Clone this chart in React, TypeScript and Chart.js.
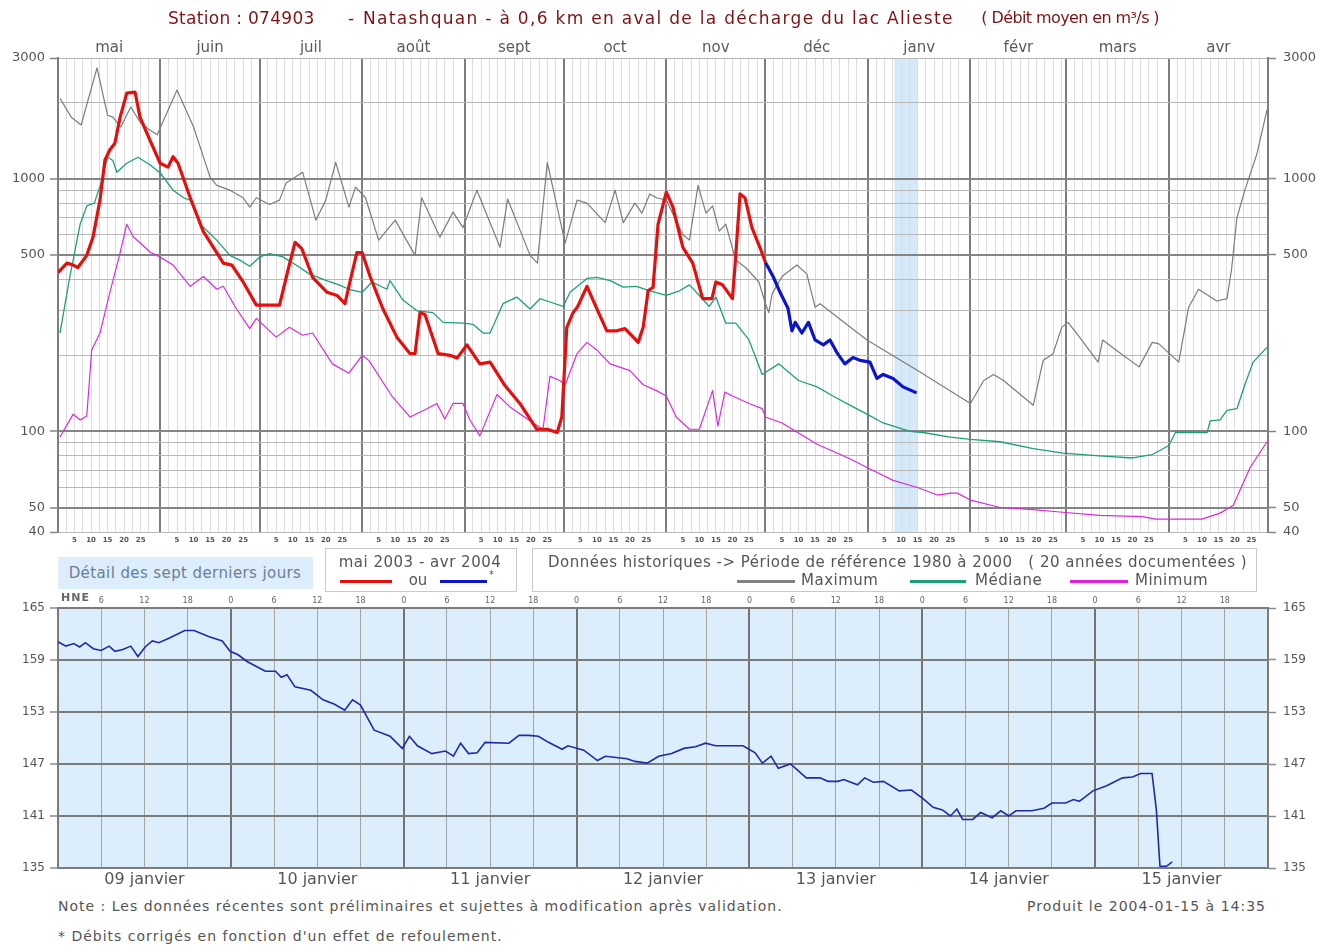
import React, { useEffect, useRef } from "react";
import Chart from "chart.js/auto";

// ---------- Top chart data (day index from 1 May 2003) ----------
const MONTHS = ["mai", "juin", "juil", "août", "sept", "oct", "nov", "déc", "janv", "févr", "mars", "avr"];
const MONTH_DAYS = [31, 30, 31, 31, 30, 31, 30, 31, 31, 29, 31, 30];
const DAY_LABELS = [5, 10, 15, 20, 25];
const Y_TICKS = [40, 50, 60, 70, 80, 90, 100, 200, 300, 400, 500, 600, 700, 800, 900, 1000, 2000, 3000];
const Y_LABELS = [40, 50, 100, 500, 1000, 3000];
const Y_MAJOR = [50, 100, 500, 1000];
const BAND_START = 253;
const BAND_END = 260;

const MAX_DAYS = [0.6, 4, 7, 11.8, 15, 16.6, 19, 22, 25, 28, 30, 36, 41, 46, 48, 52, 56, 58, 60, 64, 67, 69, 74, 78, 81, 84, 88, 90, 93, 97, 102, 108, 110, 115.5, 119.5, 122.5, 126.7, 133.7, 136, 142.8, 145, 148, 153.4, 157, 160, 165.5, 168.5, 171, 174.5, 176.6, 179, 181, 184, 189, 191, 193.6, 196, 198, 200, 202, 205, 208, 212, 214, 215, 216, 219, 223.5, 226.5, 229, 230.5, 244.7, 260, 276, 280, 283, 286, 295, 298, 301, 303.6, 305.5, 309, 314.6, 316, 320, 327, 331, 333, 339, 342, 345, 350.5, 353.6, 355, 356.6, 359, 362.7, 365.7];
const MAX_VALUES = [2080, 1750, 1630, 2740, 1780, 1750, 1600, 1920, 1660, 1550, 1490, 2240, 1600, 1014, 940, 900, 840, 771, 840, 790, 822, 960, 1060, 685, 822, 1160, 771, 925, 840, 571, 685, 497, 840, 587, 737, 640, 900, 535, 830, 497, 463, 1160, 556, 822, 800, 670, 900, 670, 800, 730, 870, 840, 822, 600, 571, 940, 730, 780, 620, 660, 476, 445, 390, 320, 295, 350, 410, 455, 420, 310, 320, 230, 174, 129, 159, 168, 159, 127, 191, 203, 258, 270, 236, 188, 230, 210, 180, 225, 222, 188, 310, 365, 328, 335, 440, 700, 900, 1260, 1870];

const MED_DAYS = [0.6, 3.6, 6.7, 8.7, 11, 13, 15, 16.6, 17.8, 20.8, 24.2, 28, 31, 34.8, 38, 40, 43, 48, 52, 55, 58, 61, 64, 68, 72, 76, 81, 85, 88, 92, 95, 99.5, 100.4, 104.4, 108.6, 113.4, 116.5, 122.5, 125.6, 128.6, 130.7, 134.6, 138.8, 142.8, 145.8, 148.8, 152.8, 154.9, 160, 163, 167, 171, 175, 179, 184, 188, 191, 194, 197, 199, 202, 205, 209, 213, 218, 224, 229.6, 234.4, 239.5, 244.7, 249.6, 257.7, 261.7, 269.8, 276, 285, 295, 304, 315, 325, 331, 334, 336, 338, 347.6, 348.5, 351.5, 353.6, 356.6, 359, 361.5, 365.7];
const MED_VALUES = [245, 410, 660, 780, 800, 960, 1215, 1180, 1060, 1150, 1215, 1130, 1050, 900, 840, 822, 660, 571, 497, 476, 450, 490, 505, 490, 455, 420, 396, 380, 365, 355, 390, 365, 395, 330, 300, 295, 270, 268, 265, 245, 245, 320, 340, 305, 335, 325, 312, 355, 403, 407, 395, 372, 375, 360, 345, 360, 380, 345, 312, 340, 268, 268, 230, 168, 185, 159, 150, 138, 127, 117, 108, 100, 99, 95, 93, 91, 85.5, 82, 80, 78.5, 81, 85, 88, 99, 99, 110, 111, 121, 123, 153, 188, 215];

const MIN_DAYS = [0.6, 4.6, 6.7, 8.7, 10.2, 12.7, 15.7, 18.8, 20.8, 22.7, 28, 30, 34.8, 40, 44, 48, 50, 54, 58, 60, 66, 70, 74, 77, 83, 88, 92, 94, 101, 106.5, 111.6, 114.6, 117, 119.5, 122.5, 124.6, 127.6, 132.8, 136.7, 143.7, 146.7, 148.8, 151.8, 153.4, 157, 160, 163, 167, 173, 177, 181, 184, 187, 191, 194, 198, 199.6, 201.7, 204, 209, 213, 214, 219, 229.6, 239.5, 244.7, 252.6, 260, 266, 270, 272, 276, 285, 295, 303, 315, 328, 332, 346, 351.5, 355.5, 360.6, 365.7];
const MIN_VALUES = [95, 117, 111, 115, 210, 245, 355, 510, 660, 590, 510, 497, 455, 375, 410, 365, 375, 305, 255, 280, 236, 258, 240, 245, 185, 170, 200, 191, 138, 114, 123, 129, 112, 129, 129, 111, 96, 140, 125, 108, 102, 165, 159, 153, 203, 225, 210, 185, 174, 153, 145, 138, 114, 102, 102, 145, 105, 143, 138, 129, 123, 114, 108, 89, 78, 72, 64, 60, 56, 57, 57, 53.5, 50, 49, 48, 46.5, 46, 45, 45, 47.5, 51, 72, 91];

const OBS_DAYS = [0, 2.7, 4.6, 6, 8.7, 10.6, 12.7, 14.2, 15.7, 17.2, 18.8, 20.8, 23.3, 24.8, 27.8, 30.9, 33.3, 34.8, 36.3, 40, 43.9, 48, 50, 52.6, 56, 60, 67, 69.6, 71.7, 73.8, 77, 81.4, 84.4, 86.8, 88.3, 90.4, 92, 94.4, 98.3, 102.5, 106.5, 108, 109.5, 111, 115, 118.6, 120.7, 123.7, 127.6, 130.7, 135, 139.7, 144.8, 148, 151, 152.4, 153.9, 155.8, 157.2, 160, 163, 166, 169, 171.5, 174, 175.5, 177, 178.5, 180, 181.5, 184, 186, 189, 192, 195, 197.8, 199, 201, 204, 204.8, 206.3, 207.8, 209.9, 212.3, 214];
const OBS_VALUES = [425, 463, 455, 445, 497, 587, 822, 1184, 1300, 1380, 1750, 2180, 2200, 1750, 1420, 1150, 1110, 1220, 1150, 840, 620, 510, 463, 455, 390, 316, 316, 436, 560, 527, 407, 355, 345, 320, 390, 510, 510, 410, 305, 236, 203, 203, 295, 290, 203, 200, 195, 220, 185, 188, 153, 129, 102, 102, 99, 114, 258, 295, 312, 375, 305, 250, 250, 255, 236, 225, 258, 360, 372, 660, 885, 771, 535, 463, 335, 335, 390, 380, 335, 455, 870, 840, 640, 535, 466];

const CORR_DAYS = [214, 216.3, 218.4, 220.8, 222, 223, 225, 227, 229, 231.5, 233.5, 235.6, 238, 240.5, 242.6, 245.6, 247.7, 249.6, 252.6, 255.6, 259.7];
const CORR_VALUES = [466, 410, 355, 307, 250, 270, 245, 270, 230, 220, 230, 205, 185, 196, 191, 188, 162, 168, 162, 150, 142];

// ---------- Bottom chart data (hours from 9 Jan 2004 00:00) ----------
const DETAIL_DAYS = ["09 janvier", "10 janvier", "11 janvier", "12 janvier", "13 janvier", "14 janvier", "15 janvier"];
const DETAIL_Y_TICKS = [135, 141, 147, 153, 159, 165];
const DETAIL_HOURS = [0, 1.1, 2.2, 3, 3.8, 4.9, 6, 7.1, 7.9, 9, 10.1, 11.1, 12.1, 13.1, 14, 15.4, 17.6, 18.9, 20.9, 22.8, 23.9, 25, 26.3, 28.8, 30.2, 31, 31.8, 32.9, 35.1, 36.8, 38.4, 39.8, 40.9, 42, 43.9, 46.1, 47.8, 48.8, 49.9, 51.9, 53.8, 54.9, 55.9, 57, 58.2, 59.3, 62.6, 64, 65.3, 66.7, 68.1, 70, 70.8, 73, 74.9, 76, 79, 80.1, 81.8, 83.4, 85.2, 86.9, 88.5, 89.9, 91.3, 95.1, 96.8, 97.8, 99, 100, 101.7, 103.9, 105.8, 106.9, 108.3, 109.1, 111, 112, 113.2, 114.6, 116.8, 118.5, 120.1, 121.5, 122.8, 123.9, 124.8, 125.6, 127, 128.1, 129.7, 130.9, 132, 133, 135.2, 136.9, 138, 139.9, 141, 141.8, 143.7, 145.6, 147.8, 149.2, 150.3, 151.9, 152.5, 153, 153.9, 154.7];
const DETAIL_VALUES = [161.1, 160.6, 160.9, 160.5, 161.0, 160.3, 160.1, 160.6, 160.0, 160.2, 160.6, 159.4, 160.5, 161.2, 161.0, 161.5, 162.4, 162.4, 161.7, 161.2, 160.0, 159.6, 158.8, 157.7, 157.7, 157.0, 157.3, 155.9, 155.5, 154.4, 153.9, 153.2, 154.4, 153.8, 150.9, 150.2, 148.8, 150.2, 149.1, 148.2, 148.5, 147.9, 149.4, 148.2, 148.3, 149.5, 149.4, 150.3, 150.3, 150.2, 149.5, 148.7, 149.1, 148.6, 147.4, 147.9, 147.6, 147.3, 147.1, 147.9, 148.2, 148.8, 149.0, 149.4, 149.1, 149.1, 148.3, 147.1, 147.9, 146.5, 147.0, 145.4, 145.4, 145.0, 145.0, 145.2, 144.6, 145.4, 144.9, 145.0, 143.9, 144.0, 143.0, 142.0, 141.7, 141.0, 141.8, 140.6, 140.6, 141.4, 140.8, 141.6, 141.0, 141.6, 141.6, 141.9, 142.5, 142.5, 142.9, 142.7, 143.9, 144.5, 145.4, 145.5, 145.9, 145.9, 141.7, 135.2, 135.2, 135.7];

// ---------- helpers ----------
const pts = (xs: number[], ys: number[]) => xs.map((x, i) => ({ x, y: ys[i] }));
const MONTH_STARTS: number[] = MONTH_DAYS.reduce((acc: number[], d) => { acc.push(acc[acc.length - 1] + d); return acc; }, [0]);
const TOTAL_DAYS = MONTH_STARTS[MONTH_STARTS.length - 1];

const dayTickValues = (() => {
  const v: number[] = [...MONTH_STARTS];
  MONTH_DAYS.forEach((len, m) => {
    for (let o = 2.5; o < len - 1; o += 2.5) v.push(MONTH_STARTS[m] + o);
  });
  return v.sort((a, b) => a - b);
})();
const dayLabelFor = (value: number) => {
  for (let m = 0; m < MONTHS.length; m++) {
    const off = value - MONTH_STARTS[m];
    if (off > 0 && off < MONTH_DAYS[m] && DAY_LABELS.includes(off)) return String(off);
  }
  return "";
};
const isMonthStart = (v: number) => MONTH_STARTS.includes(v);

const FONT = "'DejaVu Sans', 'Liberation Sans', sans-serif";
const TXT = "#555";

const bandPlugin = {
  id: "band",
  beforeDraw(chart: any) {
    const { ctx, chartArea, scales } = chart;
    if (!scales.x) return;
    const x1 = scales.x.getPixelForValue(BAND_START);
    const x2 = scales.x.getPixelForValue(BAND_END);
    ctx.save();
    ctx.fillStyle = "#d5e9f9";
    ctx.fillRect(x1, chartArea.top, x2 - x1, chartArea.bottom - chartArea.top);
    ctx.restore();
  },
};
const bgPlugin = {
  id: "bgfill",
  beforeDraw(chart: any) {
    const { ctx, chartArea } = chart;
    ctx.save();
    ctx.fillStyle = "#dcedfb";
    ctx.fillRect(chartArea.left, chartArea.top, chartArea.right - chartArea.left, chartArea.bottom - chartArea.top);
    ctx.restore();
  },
};

type TProps = { x: number; y: number; size?: number; color?: string; align?: "left" | "right" | "center"; bold?: boolean; ls?: number; children: React.ReactNode };
const T: React.FC<TProps> = ({ x, y, size = 13, color = TXT, align = "left", bold, ls = 0, children }) => {
  const style: React.CSSProperties = {
    position: "absolute",
    top: y - size * 0.6,
    fontFamily: FONT,
    fontSize: size,
    lineHeight: `${size * 1.2}px`,
    color,
    whiteSpace: "pre",
    letterSpacing: ls,
    fontWeight: bold ? "bold" : "normal",
  };
  if (align === "left") style.left = x;
  else if (align === "right") style.right = 1335 - x;
  else { style.left = x; style.transform = "translateX(-50%)"; }
  return <div style={style}>{children}</div>;
};

const Line: React.FC<{ x1: number; x2: number; y: number; color: string; w?: number }> = ({ x1, x2, y, color, w = 3 }) => (
  <div style={{ position: "absolute", left: x1, top: y - w / 2, width: x2 - x1, height: w, background: color }} />
);

export default function App() {
  const topRef = useRef<HTMLCanvasElement>(null);
  const botRef = useRef<HTMLCanvasElement>(null);

  useEffect(() => {
    const yGridColor = (ctx: any) => (Y_MAJOR.includes(ctx.tick?.value) ? "#858585" : "#b8b8b8");
    const yGridWidth = (ctx: any) => (Y_MAJOR.includes(ctx.tick?.value) ? 2 : 1);
    const yTickColor = (ctx: any) => (Y_LABELS.includes(ctx.tick?.value) ? "#858585" : "rgba(0,0,0,0)");
    const yLabel = (v: any) => (Y_LABELS.includes(Number(v)) ? String(v) : "");
    const setYTicks = (s: any) => { s.ticks = Y_TICKS.map((value) => ({ value })); };

    const top = new Chart(topRef.current!, {
      type: "line",
      data: {
        datasets: [
          { data: pts(OBS_DAYS, OBS_VALUES), borderColor: "#e41010", borderWidth: 3.2 },
          { data: pts(CORR_DAYS, CORR_VALUES), borderColor: "#0a14c8", borderWidth: 3.2 },
          { data: pts(MIN_DAYS, MIN_VALUES), borderColor: "#d82cd8", borderWidth: 1.2 },
          { data: pts(MED_DAYS, MED_VALUES), borderColor: "#1d9f7c", borderWidth: 1.3 },
          { data: pts(MAX_DAYS, MAX_VALUES), borderColor: "#7c7c7c", borderWidth: 1.2 },
        ].map((d) => ({ ...d, pointRadius: 0, fill: false, tension: 0, borderJoinStyle: "round" as const })),
      },
      options: {
        responsive: false,
        animation: false,
        events: [],
        layout: { padding: 0 },
        plugins: { legend: { display: false }, tooltip: { enabled: false }, title: { display: false } },
        scales: {
          x: {
            type: "linear", position: "bottom", min: 0, max: TOTAL_DAYS,
            afterBuildTicks: (s: any) => { s.ticks = dayTickValues.map((value) => ({ value })); },
            afterFit: (s: any) => { s.height = 16; },
            ticks: { autoSkip: false, maxRotation: 0, padding: 4, color: "#555", font: { family: FONT, size: 7, weight: "bold" }, callback: (v: any) => dayLabelFor(Number(v)) },
            grid: {
              drawTicks: false,
              color: (c: any) => (isMonthStart(c.tick?.value) ? "#7e7e7e" : "#dddddd"),
              lineWidth: (c: any) => (isMonthStart(c.tick?.value) ? 2 : 1),
            },
            border: { display: false },
          },
          xTop: {
            type: "linear", position: "top", min: 0, max: TOTAL_DAYS,
            afterBuildTicks: (s: any) => { s.ticks = MONTHS.map((_, m) => ({ value: MONTH_STARTS[m] + MONTH_DAYS[m] / 2 })); },
            afterFit: (s: any) => { s.height = 58; },
            ticks: {
              autoSkip: false, maxRotation: 0, padding: 1, color: "#5a5a5a", font: { family: FONT, size: 15 },
              callback: (_v: any, i: number) => MONTHS[i],
            },
            grid: { display: false, drawTicks: false },
            border: { display: false },
          },
          y: {
            type: "logarithmic", position: "left", min: 40, max: 3000,
            afterBuildTicks: setYTicks,
            afterFit: (s: any) => { s.width = 58; },
            ticks: { autoSkip: false, padding: 5, color: "#555", font: { family: FONT, size: 13 }, callback: yLabel },
            grid: { color: yGridColor, lineWidth: yGridWidth, tickLength: 8, tickColor: yTickColor, tickWidth: 1.5 },
            border: { color: "#7e7e7e", width: 2 },
          },
          yRight: {
            type: "logarithmic", position: "right", min: 40, max: 3000,
            afterBuildTicks: setYTicks,
            afterFit: (s: any) => { s.width = 67; },
            ticks: { autoSkip: false, padding: 7, color: "#555", font: { family: FONT, size: 13 }, callback: yLabel },
            grid: { drawOnChartArea: false, tickLength: 8, tickColor: yTickColor, tickWidth: 1.5 },
            border: { color: "#7e7e7e", width: 2 },
          },
        },
      } as any,
      plugins: [bandPlugin],
    });

    const bot = new Chart(botRef.current!, {
      type: "line",
      data: {
        datasets: [
          { data: pts(DETAIL_HOURS, DETAIL_VALUES), borderColor: "#1f2aa8", borderWidth: 1.6, pointRadius: 0, fill: false, tension: 0 },
        ],
      },
      options: {
        responsive: false,
        animation: false,
        events: [],
        layout: { padding: 0 },
        plugins: { legend: { display: false }, tooltip: { enabled: false }, title: { display: false } },
        scales: {
          x: {
            type: "linear", position: "bottom", min: 0, max: 168,
            afterBuildTicks: (s: any) => { s.ticks = DETAIL_DAYS.map((_, i) => ({ value: 12 + 24 * i })); },
            afterFit: (s: any) => { s.height = 22; },
            ticks: { autoSkip: false, maxRotation: 0, padding: 2, color: "#555", font: { family: FONT, size: 16 }, callback: (_v: any, i: number) => DETAIL_DAYS[i] },
            grid: { display: false, drawTicks: false },
            border: { display: false },
          },
          xTop: {
            type: "linear", position: "top", min: 0, max: 168,
            afterBuildTicks: (s: any) => { const t = []; for (let h = 0; h <= 168; h += 6) t.push({ value: h }); s.ticks = t; },
            afterFit: (s: any) => { s.height = 18; },
            ticks: {
              autoSkip: false, maxRotation: 0, padding: 2, color: "#666", font: { family: FONT, size: 8 },
              callback: (v: any) => { const h = Number(v); return h === 0 || h === 168 ? "" : String(h % 24); },
            },
            grid: {
              drawTicks: false,
              color: (c: any) => (c.tick && c.tick.value % 24 === 0 ? "#747474" : "#a4a4a4"),
              lineWidth: (c: any) => (c.tick && c.tick.value % 24 === 0 ? 2 : 1),
            },
            border: { display: false },
          },
          y: {
            type: "linear", position: "left", min: 135, max: 165,
            afterBuildTicks: (s: any) => { s.ticks = DETAIL_Y_TICKS.map((value) => ({ value })); },
            afterFit: (s: any) => { s.width = 58; },
            ticks: { autoSkip: false, padding: 5, color: "#555", font: { family: FONT, size: 12 } },
            grid: { color: "#7c7c7c", lineWidth: 2, tickLength: 8, tickColor: "#8a8a8a", tickWidth: 1.5 },
            border: { color: "#7c7c7c", width: 2 },
          },
          yRight: {
            type: "linear", position: "right", min: 135, max: 165,
            afterBuildTicks: (s: any) => { s.ticks = DETAIL_Y_TICKS.map((value) => ({ value })); },
            afterFit: (s: any) => { s.width = 67; },
            ticks: { autoSkip: false, padding: 7, color: "#555", font: { family: FONT, size: 12 } },
            grid: { drawOnChartArea: false, tickLength: 8, tickColor: "#8a8a8a", tickWidth: 1.5 },
            border: { color: "#7c7c7c", width: 2 },
          },
        },
      } as any,
      plugins: [bgPlugin],
    });

    return () => { top.destroy(); bot.destroy(); };
  }, []);

  const titleColor = "#7d1414";
  return (
    <div style={{ position: "absolute", left: 0, top: 0, width: 1335, height: 948, background: "#fff", overflow: "hidden" }}>
      <canvas ref={topRef} width={1335} height={548} style={{ position: "absolute", left: 0, top: 0 }} />
      <canvas ref={botRef} width={1335} height={300} style={{ position: "absolute", left: 0, top: 590 }} />

      {/* Title */}
      <T x={168} y={18} size={17} ls={0.3} color={titleColor}>Station : 074903</T>
      <T x={348} y={18} size={17} color={titleColor}>-</T>
      <T x={363} y={18} size={17} ls={1.3} color={titleColor}>Natashquan - à 0,6 km en aval de la décharge du lac Alieste</T>
      <T x={1159} y={18} size={16} ls={-0.6} color={titleColor} align="right">( Débit moyen en m³/s )</T>

      {/* Legend block 1 */}
      <div style={{ position: "absolute", left: 58, top: 557, width: 255, height: 32, background: "#dcedfb" }} />
      <T x={185} y={573} size={15} ls={0.4} color="#6b7f95" align="center">Détail des sept derniers jours</T>

      {/* Legend block 2 */}
      <div style={{ position: "absolute", left: 325, top: 548, width: 192, height: 44, border: "1px solid #c9c9c9", boxSizing: "border-box" }} />
      <T x={420} y={562} size={15} ls={0.5} align="center">mai 2003 - avr 2004</T>
      <Line x1={340} x2={392} y={581} color="#e41010" />
      <T x={418} y={580} size={15} align="center">ou</T>
      <Line x1={440} x2={487} y={581} color="#0a14c8" />
      <T x={489} y={575} size={10}>*</T>

      {/* Legend block 3 */}
      <div style={{ position: "absolute", left: 532, top: 548, width: 725, height: 44, border: "1px solid #c9c9c9", boxSizing: "border-box" }} />
      <T x={548} y={562} size={15} ls={0.5}>Données historiques -&gt; Période de référence 1980 à 2000   ( 20 années documentées )</T>
      <Line x1={737} x2={795} y={581} color="#808080" />
      <T x={801} y={580} size={15} ls={0.5}>Maximum</T>
      <Line x1={910} x2={966} y={581} color="#1d9f7c" />
      <T x={975} y={580} size={15} ls={0.5}>Médiane</T>
      <Line x1={1070} x2={1128} y={581} color="#e020e0" />
      <T x={1135} y={580} size={15} ls={0.5}>Minimum</T>

      {/* HNE */}
      <T x={61} y={598} size={11} ls={1} bold color="#666">HNE</T>

      {/* Footer */}
      <T x={58} y={906} size={14} ls={1}>Note : Les données récentes sont préliminaires et sujettes à modification après validation.</T>
      <T x={1266} y={906} size={14} ls={1} align="right">Produit le 2004-01-15 à 14:35</T>
      <T x={58} y={936} size={14} ls={1}>* Débits corrigés en fonction d'un effet de refoulement.</T>
    </div>
  );
}
